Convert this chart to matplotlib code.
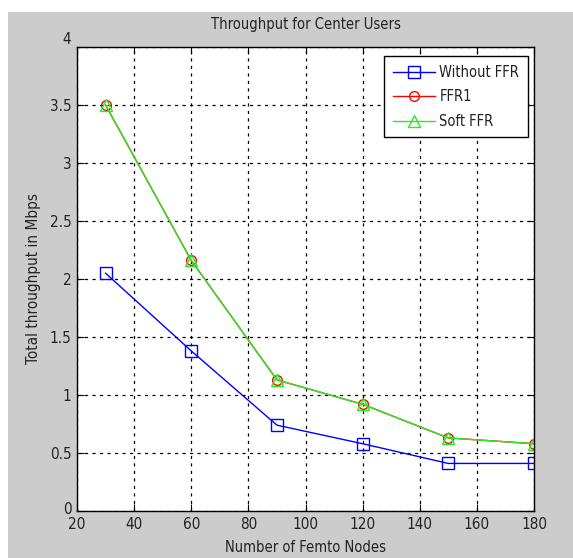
import matplotlib
matplotlib.use("Agg")
import matplotlib.pyplot as plt
from matplotlib.patches import Rectangle
import matplotlib.transforms as mtransforms

nodes = [30, 60, 90, 120, 150, 180]
without_ffr = [2.05, 1.38, 0.74, 0.58, 0.41, 0.41]
ffr1 = [3.50, 2.16, 1.13, 0.92, 0.63, 0.58]
soft_ffr = [3.50, 2.16, 1.13, 0.92, 0.63, 0.58]
xticks = [20, 40, 60, 80, 100, 120, 140, 160, 180]
yticks = [0, 0.5, 1, 1.5, 2, 2.5, 3, 3.5, 4]
ytick_labels = ["0", "0.5", "1", "1.5", "2", "2.5", "3", "3.5", "4"]

plt.rcParams['font.family'] = ["DejaVu Sans"]
plt.rcParams['font.stretch'] = "condensed"
TXT = "#222222"

fig = plt.figure(figsize=(5.73, 5.58), dpi=100)
fig.patch.set_facecolor("white")
fig.patches.append(Rectangle((8/573, 0), 1, 1 - 12/558, transform=fig.transFigure,
                             facecolor="#cccccc", edgecolor="none", zorder=-10))

ax = fig.add_axes([77/573, 47/558, (534-77)/573, (511-47)/558])
ax.set_facecolor("white")
ax.plot(nodes, without_ffr, color="blue", marker="s", markersize=8, markerfacecolor="none",
        markeredgewidth=1, lw=1, label="Without FFR")
ax.plot(nodes, ffr1, color="red", marker="o", markersize=7, markerfacecolor="none",
        markeredgewidth=1, lw=1, label="FFR1")
ax.plot(nodes, soft_ffr, color="#22ee22", marker="^", markersize=8, markerfacecolor="none",
        markeredgewidth=1, lw=1, label="Soft FFR")

ax.set_xlim(20, 180)
ax.set_ylim(0, 4)
ax.set_xticks(xticks)
ax.set_yticks(yticks)
ax.set_yticklabels(ytick_labels)
ax.tick_params(direction="in", top=True, right=True, labelsize=11, length=5,
               color="black", labelcolor=TXT)
ax.tick_params(axis="x", pad=4)
ax.tick_params(axis="y", pad=4)
ax.grid(True, color="black", linestyle=(0, (2.5, 3.5)), linewidth=0.9)
for s in ax.spines.values():
    s.set_color("black")
    s.set_linewidth(1)

lbls = ax.get_yticklabels()
lbls[0].set_transform(lbls[0].get_transform() + mtransforms.ScaledTranslation(0, 3/100, fig.dpi_scale_trans))
lbls[-1].set_transform(lbls[-1].get_transform() + mtransforms.ScaledTranslation(0, 9/100, fig.dpi_scale_trans))

ax.set_title("Throughput for Center Users", fontsize=10.5, pad=13, color=TXT)
ax.set_xlabel("Number of Femto Nodes", fontsize=10.5, color=TXT)
ax.xaxis.set_label_coords(0.5, -0.062)
ax.set_ylabel("Total throughput in Mbps", fontsize=11, color=TXT)
ax.yaxis.set_label_coords(-0.078, 0.5)
leg = ax.legend(loc="upper right", bbox_to_anchor=((528-77)/457, (511-56)/464),
                fontsize=10.5, frameon=True, fancybox=False,
                edgecolor="black", framealpha=1, borderaxespad=0, borderpad=0.6,
                handlelength=2.9, handletextpad=0.3, labelspacing=0.65)
leg.get_frame().set_linewidth(1)
for t in leg.get_texts():
    t.set_color(TXT)

fig.savefig("out.png", dpi=100)
